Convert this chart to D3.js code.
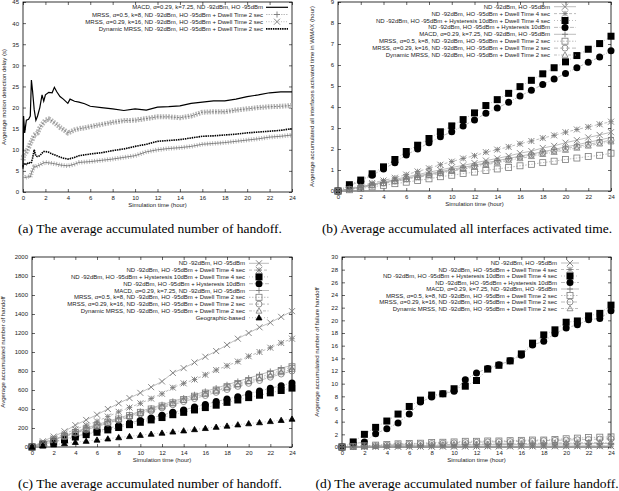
<!DOCTYPE html>
<html><head><meta charset="utf-8">
<script src="https://cdn.jsdelivr.net/npm/d3@7"></script>
<style>body{margin:0;background:#fff}</style>
</head><body><svg id="c" width="619" height="491" style="font-family:'Liberation Sans',Arial,sans-serif"></svg>
<script>
// ---------- DATA ----------
const hours = [0,1,2,3,4,5,6,7,8,9,10,11,12,13,14,15,16,17,18,19,20,21,22,23,24];
const xTicks = [0,2,4,6,8,10,12,14,16,18,20,22,24];

// panel (a) : motion detection delay
const aTime = [0,0.05,0.15,0.3,0.5,0.65,0.75,0.85,1.0,1.15,1.3,1.5,1.7,1.85,2.0,2.3,2.6,2.8,3.0,3.3,3.6,4.0,4.2,4.6,5,5.5,6,7,8,9,10,11,12,13,14,15,16,17,18,19,20,21,22,23,24];
const aMacd = [5.5,18,14,17,17.2,18,26.5,24,19.5,17,18,20,23,21.5,23,23.6,23.5,24.8,23.8,22.6,22,21,22,21.5,21.3,20.9,20.3,20,19.7,19.3,19.7,19.4,20.1,20.2,20.4,21,21.3,21.6,21.6,22,22.6,23,23.5,23.7,23.7];
const aMrssK8 = [3.5,3.5,3.4,3.5,3.6,3.5,4.5,5.2,6,6,6.2,6.4,6.7,6.9,7,6.9,6.8,6.7,6.6,6.4,6.3,6.2,6.3,6.6,7,7.1,7.2,7.5,7.8,8.2,8.6,9.5,10,10.3,10.5,10.8,11.3,11.5,11.7,12,12.3,12.6,13,13.2,13.5];
const aMrssK16 = [7.5,8.5,9,9.5,10.5,11.5,12,12.5,13.5,13.8,14,15.2,16,16.5,17,17.3,16.8,16.4,16,15.3,14.8,14,14.2,14.7,15,15.2,15.5,16,16.5,16.9,17,17.4,17.8,17.8,17.6,18,18.9,19,19,19.4,19.7,20,20.2,20.3,20.5];
const aDyn = [6,6.5,6.8,6.5,7,6.8,7,8,10,8.5,8.4,8.6,9.2,9.6,9.6,9.4,9,8.8,8.6,8.3,8,7.8,7.9,8.2,8.6,8.8,9,9.3,9.8,10.2,10.8,11.3,12,12.2,12.4,12.8,13.2,13.3,13.5,13.7,14,14.2,14.4,14.6,15];
const aLabels = ["MACD, \u03b1=0.29, k=7.25, ND -92dBm, HO -95dBm",
  "MRSS, \u03b1=0.5, k=8, ND -92dBm, HO -95dBm + Dwell Time 2 sec",
  "MRSS, \u03b1=0.29, k=16, ND -92dBm, HO -95dBm + Dwell Time 2 sec",
  "Dynamic MRSS, ND -92dBm, HO -95dBm + Dwell Time 2 sec"];

const labels8 = ["ND -92dBm, HO -95dBm",
  "ND -92dBm, HO -95dBm + Dwell Time 4 sec",
  "ND -92dBm, HO -95dBm + Hysteresis 10dBm + Dwell Time 4 sec",
  "ND -92dBm, HO -95dBm + Hysteresis 10dBm",
  "MACD, \u03b1=0.29, k=7.25, ND -92dBm, HO -95dBm",
  "MRSS, \u03b1=0.5, k=8, ND -92dBm, HO -95dBm + Dwell Time 2 sec",
  "MRSS, \u03b1=0.29, k=16, ND -92dBm, HO -95dBm + Dwell Time 2 sec",
  "Dynamic MRSS, ND -92dBm, HO -95dBm + Dwell Time 2 sec"];
const geoLabel = "Geographic-based";

// panel (b) : activated time in WiMAX (hour)
const bNd = [0,0.1,0.2,0.32,0.43,0.55,0.67,0.78,0.9,1.0,1.12,1.22,1.33,1.45,1.55,1.67,1.8,1.9,2.05,2.15,2.3,2.42,2.55,2.67,2.8];
const bDwell4 = [0,0.12,0.25,0.38,0.5,0.63,0.78,0.93,1.08,1.25,1.4,1.55,1.68,1.85,1.97,2.1,2.25,2.38,2.52,2.65,2.8,2.93,3.05,3.18,3.3];
const bHystDwell = [0,0.3,0.52,0.82,1.15,1.5,1.88,2.18,2.5,2.82,3.1,3.4,3.72,4.07,4.35,4.65,4.97,5.27,5.58,5.87,6.15,6.45,6.75,7.02,7.37];
const bHyst = [0,0.25,0.47,0.75,1.05,1.35,1.72,2.0,2.3,2.58,2.82,3.1,3.38,3.7,3.95,4.23,4.52,4.8,5.07,5.33,5.6,5.87,6.13,6.38,6.68];
const bMacd = [0,0.09,0.19,0.29,0.4,0.5,0.61,0.72,0.82,0.92,1.03,1.13,1.23,1.34,1.45,1.55,1.66,1.76,1.87,1.98,2.1,2.2,2.32,2.43,2.55];
const bMrssK8 = [0,0.06,0.12,0.2,0.27,0.35,0.42,0.5,0.58,0.68,0.75,0.83,0.9,0.98,1.05,1.12,1.2,1.27,1.35,1.42,1.5,1.57,1.64,1.7,1.8];
const bMrssK16 = [0,0.09,0.18,0.28,0.38,0.48,0.58,0.68,0.78,0.88,0.98,1.08,1.2,1.3,1.42,1.52,1.62,1.72,1.82,1.92,2.02,2.12,2.22,2.32,2.42];
const bDyn = [0,0.08,0.17,0.26,0.36,0.45,0.55,0.65,0.74,0.84,0.94,1.04,1.14,1.25,1.35,1.45,1.55,1.65,1.75,1.85,1.95,2.05,2.15,2.25,2.35];

// panel (c) : accumulated number of handoff
const cNd = [0,60,110,165,230,285,340,400,460,515,570,630,690,780,830,890,950,1010,1075,1140,1200,1260,1310,1370,1430];
const cDwell4 = [0,45,90,140,185,230,270,320,370,415,460,510,560,625,670,710,760,810,855,900,955,1000,1045,1095,1140];
const cHystDwell = [0,25,50,75,105,130,155,180,205,235,260,285,310,340,365,390,415,440,470,495,520,545,570,595,620];
const cHyst = [0,28,55,85,112,140,168,195,225,252,280,305,335,365,390,420,448,478,505,530,560,590,618,645,675];
const cMacd = [0,40,80,120,160,200,235,270,305,340,375,410,445,480,515,550,585,620,655,690,725,760,795,830,860];
const cMrssK8 = [0,38,76,115,152,190,225,260,295,330,365,400,432,465,500,535,568,600,635,668,700,735,770,805,845];
const cMrssK16 = [0,36,72,108,145,180,215,250,282,315,348,380,412,445,478,510,542,575,605,638,670,700,735,768,800];
const cDyn = [0,37,75,112,150,186,222,256,290,325,358,392,425,458,492,525,558,590,622,655,688,720,752,785,820];
const cGeo = [0,12,25,37,50,62,75,87,100,112,125,137,148,160,172,185,197,210,222,235,247,258,270,282,295];

// panel (d) : accumulated number of failure handoff
const dNd = [0,0.02,0.04,0.05,0.06,0.07,0.08,0.08,0.09,0.1,0.1,0.11,0.11,0.12,0.12,0.12,0.13,0.13,0.14,0.14,0.15,0.15,0.16,0.16,0.17];
const dDwell4 = [0,0.01,0.02,0.03,0.04,0.05,0.05,0.06,0.06,0.07,0.07,0.08,0.08,0.08,0.09,0.09,0.09,0.1,0.1,0.1,0.11,0.11,0.11,0.12,0.12];
const dHystDwell = [0,0.8,2.0,3.1,4.1,5.2,6.4,7.4,8.2,8.4,9.2,9.6,10.5,12.3,12.9,13.6,14.7,16.4,17.7,18.5,19.7,19.9,20.7,21.1,22.4];
const dHyst = [0,0.5,0.8,2.1,2.9,3.8,5.2,7.1,7.9,8.4,8.8,10.6,11.7,12.4,13.0,13.6,14.5,16.1,16.7,17.9,18.8,19.3,20.1,20.3,21.5];
const dMacd = [0,0.05,0.1,0.12,0.15,0.18,0.2,0.22,0.25,0.27,0.3,0.32,0.34,0.36,0.38,0.4,0.42,0.43,0.45,0.46,0.48,0.5,0.52,0.54,0.55];
const dMrssK8 = [0,0.1,0.2,0.3,0.4,0.5,0.55,0.6,0.7,0.75,0.8,0.9,0.9,0.95,0.95,1.0,1.05,1.1,1.1,1.2,1.3,1.4,1.5,1.55,1.6];
const dMrssK16 = [0,0.08,0.15,0.22,0.3,0.38,0.45,0.5,0.55,0.6,0.65,0.7,0.75,0.8,0.82,0.85,0.9,0.95,1.0,1.05,1.1,1.15,1.2,1.25,1.3];
const dDyn = [0,0.05,0.1,0.15,0.2,0.25,0.28,0.32,0.35,0.38,0.4,0.43,0.46,0.48,0.5,0.52,0.55,0.57,0.6,0.62,0.64,0.66,0.68,0.7,0.72];

// ---------- STYLES ----------
const GM = "#7a7a7a", GL = "#a0a0a0";
const FS = "6px", SANS = "'Liberation Sans', Arial, sans-serif", SERIF = "'Liberation Serif', 'Times New Roman', serif";
const style8 = [
  {m:"x",    dash:null},
  {m:"star", dash:"3,2"},
  {m:"sqF",  dash:"1,2"},
  {m:"cirF", dash:"4,1.5,1,1.5"},
  {m:"plus", dash:null},
  {m:"sq",   dash:"1.5,1.5"},
  {m:"cir",  dash:"4,2"},
  {m:"tri",  dash:"3,1.5,1,1.5"}];
const styleGeo = {m:"triF", dash:"1,2"};

const svg = d3.select("#c");

function marker(g, type, cx, cy, s){
  const h = s/2;
  if(type==="x"||type==="star"){
    g.append("path").attr("d",`M${cx-h},${cy-h}L${cx+h},${cy+h}M${cx-h},${cy+h}L${cx+h},${cy-h}`).attr("stroke",GM).attr("stroke-width",0.9).attr("fill","none");
  }
  if(type==="plus"||type==="star"){
    const k = type==="star"? h*0.9 : h;
    g.append("path").attr("d",`M${cx-k},${cy}L${cx+k},${cy}M${cx},${cy-k}L${cx},${cy+k}`).attr("stroke",GM).attr("stroke-width",0.9).attr("fill","none");
  }
  if(type==="sqF") g.append("rect").attr("x",cx-h).attr("y",cy-h).attr("width",s).attr("height",s).attr("fill","#000");
  if(type==="cirF") g.append("circle").attr("cx",cx).attr("cy",cy).attr("r",h).attr("fill","#000");
  if(type==="sq") g.append("rect").attr("x",cx-h).attr("y",cy-h).attr("width",s).attr("height",s).attr("fill","none").attr("stroke",GM).attr("stroke-width",0.8);
  if(type==="cir") g.append("circle").attr("cx",cx).attr("cy",cy).attr("r",h).attr("fill","none").attr("stroke",GM).attr("stroke-width",0.8);
  if(type==="tri"||type==="triF"){
    g.append("path").attr("d",`M${cx},${cy-h}L${cx+h},${cy+h*0.75}L${cx-h},${cy+h*0.75}Z`)
     .attr("fill",type==="triF"?"#000":"none").attr("stroke",type==="triF"?"#000":GM).attr("stroke-width",0.8);
  }
}

function txt(g, x, y, s, anchor){
  return g.append("text").attr("x",x).attr("y",y).attr("text-anchor",anchor||"start")
    .style("font-family",SANS).style("font-size",FS).attr("fill","#222").text(s);
}

function frame(p){
  const x = d3.scaleLinear().domain([0,24]).range([p.l,p.r]);
  const y = d3.scaleLinear().domain([0,p.ymax]).range([p.b,p.t]);
  const g = svg.append("g");
  const ax = g.append("g").attr("transform",`translate(0,${p.b})`).call(d3.axisBottom(x).tickValues(xTicks).tickFormat(d3.format("d")).tickSizeInner(-3).tickSizeOuter(0).tickPadding(4));
  const axT = g.append("g").attr("transform",`translate(0,${p.t})`).call(d3.axisTop(x).tickValues(xTicks).tickSizeInner(-3).tickSizeOuter(0).tickFormat(""));
  const ay = g.append("g").attr("transform",`translate(${p.l},0)`).call(d3.axisLeft(y).tickValues(p.yTicks).tickFormat(d3.format("d")).tickSizeInner(-3).tickSizeOuter(0).tickPadding(4));
  const ayR = g.append("g").attr("transform",`translate(${p.r},0)`).call(d3.axisRight(y).tickValues(p.yTicks).tickSizeInner(-3).tickSizeOuter(0).tickFormat(""));
  [ax,axT,ay,ayR].forEach(a=>{a.select(".domain").remove();a.selectAll("line").attr("stroke","#000").attr("stroke-width",0.6);a.selectAll("text").style("font-size",FS).attr("fill","#222").style("font-family",SANS);});
  g.append("rect").attr("x",p.l).attr("y",p.t).attr("width",p.r-p.l).attr("height",p.b-p.t).attr("fill","none").attr("stroke","#000").attr("stroke-width",0.8);
  txt(g,(p.l+p.r)/2,p.b+15,"Simulation time (hour)","middle");
  g.append("text").attr("transform",`translate(${p.ylx},${(p.t+p.b)/2}) rotate(-90)`).attr("text-anchor","middle")
    .style("font-family",SANS).style("font-size",FS).attr("fill","#222").text(p.ylabel);
  g.append("text").attr("x",p.capX).attr("y",p.capY).attr("text-anchor","middle").style("font-family",SERIF).style("font-size","13.5px").attr("fill","#000").text(p.caption);
  return {x,y,g};
}

function markerPanel(p, seriesList, styles, labels){
  const {x,y,g} = frame(p);
  const line = d3.line().x((d,i)=>x(hours[i])).y(d=>y(d));
  seriesList.forEach((vals,k)=>{
    const st = styles[k];
    g.append("path").datum(vals).attr("d",line).attr("fill","none").attr("stroke",GL).attr("stroke-width",0.7).attr("stroke-dasharray",st.dash);
  });
  seriesList.forEach((vals,k)=>{
    const st = styles[k];
    const ms = (st.m==="sqF"||st.m==="cirF")? p.ms+1 : p.ms;
    vals.forEach((v,i)=>marker(g, st.m, x(hours[i]), y(v), ms));
  });
  labels.forEach((lab,k)=>{
    const st = styles[k];
    const yy = p.legY + k*p.legDy;
    txt(g,p.legR,yy+2,lab,"end");
    g.append("line").attr("x1",p.legR+4).attr("x2",p.legR+4+p.legW).attr("y1",yy).attr("y2",yy).attr("stroke",GL).attr("stroke-width",0.7).attr("stroke-dasharray",st.dash);
    const ms = (st.m==="sqF"||st.m==="cirF")? p.ms+1 : p.ms;
    marker(g, st.m, p.legR+4+p.legW/2, yy, ms);
  });
}

// ---------- PANEL (a) ----------
(function(){
  const p = {l:23,r:292,t:2,b:192,ymax:45,yTicks:[0,5,10,15,20,25,30,35,40,45],ylx:6,
    ylabel:"Avgerage motion detection delay (s)",caption:"(a)  The average accumulated number of handoff.",capX:150,capY:233};
  const {x,y,g} = frame(p);
  const line = d3.line().x((d,i)=>x(aTime[i])).y(d=>y(d));
  [aMrssK16, aMrssK8].forEach((vals,k)=>{
    g.append("path").datum(vals).attr("d",line).attr("fill","none").attr("stroke","#b4b4b4").attr("stroke-width",k===0?5:4.5).attr("stroke-dasharray",k===0?"1.6,1.2":"1,1.6");
    g.append("path").datum(vals).attr("d",line).attr("fill","none").attr("stroke","#6a6a6a").attr("stroke-width",0.8).attr("stroke-dasharray",k===0?"2,1.5":null);
  });
  g.append("path").datum(aDyn).attr("d",line).attr("fill","none").attr("stroke","#000").attr("stroke-width",1.6).attr("stroke-dasharray","1.5,0.8");
  g.append("path").datum(aMacd).attr("d",line).attr("fill","none").attr("stroke","#000").attr("stroke-width",1.2);
  const legR = 263, legW = 22;
  aLabels.forEach((lab,k)=>{
    const yy = 7.3 + k*7.2;
    txt(g,legR,yy+2,lab,"end");
    const ln = g.append("line").attr("x1",legR+3).attr("x2",legR+3+legW).attr("y1",yy).attr("y2",yy);
    if(k===0) ln.attr("stroke","#000").attr("stroke-width",1.2);
    if(k===1){ ln.attr("stroke",GL).attr("stroke-width",0.7).attr("stroke-dasharray","1.5,1"); marker(g,"plus",legR+3+legW/2,yy,6); }
    if(k===2){ ln.attr("stroke",GL).attr("stroke-width",0.7).attr("stroke-dasharray","1,1.5"); marker(g,"x",legR+3+legW/2,yy,6); }
    if(k===3) ln.attr("stroke","#000").attr("stroke-width",1.6).attr("stroke-dasharray","1.5,0.8");
  });
})();

// ---------- PANEL (b) ----------
markerPanel({l:338,r:611,t:2,b:191,ymax:9,yTicks:[0,1,2,3,4,5,6,7,8,9],ylx:314,ms:6,
  ylabel:"Avgerage accumulated all interfaces activated time in WiMAX (hour)",
  caption:"(b)  Average accumulated all interfaces activated time.",capX:467,capY:233,
  legR:550,legY:6.7,legDy:6.9,legW:22},
  [bNd,bDwell4,bHystDwell,bHyst,bMacd,bMrssK8,bMrssK16,bDyn], style8, labels8);

// ---------- PANEL (c) ----------
markerPanel({l:32,r:292,t:257,b:447,ymax:2000,yTicks:[0,200,400,600,800,1000,1200,1400,1600,1800,2000],ylx:5,ms:6,
  ylabel:"Avgerage accumulated number of handoff",
  caption:"(c)  The average accumulated number of handoff.",capX:150,capY:488,
  legR:245,legY:263.3,legDy:6.8,legW:20},
  [cNd,cDwell4,cHystDwell,cHyst,cMacd,cMrssK8,cMrssK16,cDyn,cGeo], style8.concat([styleGeo]), labels8.concat([geoLabel]));

// ---------- PANEL (d) ----------
markerPanel({l:342,r:611,t:257,b:447,ymax:30,yTicks:[0,2,4,6,8,10,12,14,16,18,20,22,24,26,28,30],ylx:319,ms:6,
  ylabel:"Avgerage accumulated number of failure handoff",
  caption:"(d)  The average accumulated number of failure handoff.",capX:467,capY:488,
  legR:557,legY:263,legDy:6.5,legW:18},
  [dNd,dDwell4,dHystDwell,dHyst,dMacd,dMrssK8,dMrssK16,dDyn], style8, labels8);
</script></body></html>
